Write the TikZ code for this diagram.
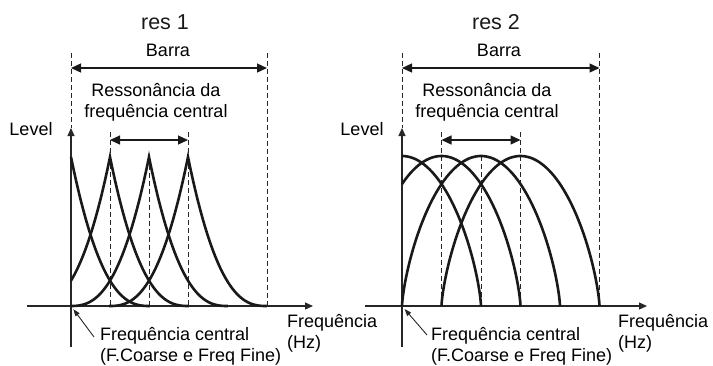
\documentclass[tikz,border=0pt]{standalone}
\usepackage{fontspec}
\setmainfont{Liberation Sans}
\usetikzlibrary{arrows.meta,positioning}

\begin{document}
\begin{tikzpicture}[x=1pt, y=-1pt,
    lbl/.style={font=\fontsize{18}{21}\selectfont, inner sep=0pt, text=black},
    ttl/.style={font=\fontsize{21.5}{24}\selectfont, inner sep=0pt, text=black!90},
    axisline/.style={line width=1.2pt, black!85, -{Triangle[length=8pt,width=7pt]}},
    guide/.style={dash pattern=on 5pt off 3pt, line width=1pt, black!85},
    spanarr/.style={line width=1.3pt, black!90, {Triangle[length=10pt,width=9pt]}-{Triangle[length=10pt,width=9pt]}},
    peak/.style={line width=2.6pt, black!90, line join=miter},
    ptr/.style={line width=0.9pt, black!85, -{Triangle[length=7pt,width=5pt]}, shorten >=4pt},
]
\useasboundingbox (0,0) rectangle (713,365);

% === LEFT PANEL: res 1 ===
\node[ttl] (res1) at (165,22) {res 1};
\node[lbl] (barra1) at (168,50.5) {Barra};
\node[lbl, align=center] (rfc1) at (156,102) {Ressonância da\\frequência central};
\node[lbl] (lvl1) at (31,129) {Level};
\node[lbl, anchor=west, align=left] (fc1) at (100,346) {Frequência central\\(F.Coarse e Freq Fine)};
\node[lbl, anchor=west, align=left] (hz1) at (287,333) {Frequência\\(Hz)};

% guides
\draw[guide] (71,53) -- (71,128);
\draw[guide] (267,53) -- (267,306);
\draw[guide] (110,132) -- (110,306);
\draw[guide] (149,157) -- (149,306);
\draw[guide] (188,132) -- (188,306);

% axes
\coordinate (o1) at (71,306);
\draw[axisline] (71,347) -- (71,128);
\draw[axisline] (27,306) -- (313,306);

% span arrows
\coordinate (bar1l) at (71,68);
\coordinate (bar1r) at (267,68);
\draw[spanarr] (bar1l) -- (bar1r);
\coordinate (st1l) at (110,140);
\coordinate (st1r) at (188,140);
\draw[spanarr] (st1l) -- (st1r);

% resonance peaks
\draw[peak] plot[domain=71:149.9, samples=60] (\x,{306-149*(1-(\x-71)/79)^2.6});
\foreach \c/\lo in {110/71,149/71,188/109.1}
  \draw[peak] plot[domain=\lo:\c, samples=50] (\x,{306-149*(1-(\c-\x)/79)^2.6})
    -- plot[domain=\c+0.4:\c+78.9, samples=60] (\x,{306-149*(1-(\x-\c)/79)^2.6});

% pointer
\coordinate (p1) at (94,337);
\draw[ptr] (p1) -- (o1);

% === RIGHT PANEL: res 2 ===
\node[ttl] (res2) at (496,22) {res 2};
\node[lbl] (barra2) at (499,50.5) {Barra};
\node[lbl, align=center] (rfc2) at (487,102) {Ressonância da\\frequência central};
\node[lbl] (lvl2) at (362,129) {Level};
\node[lbl, anchor=west, align=left] (fc2) at (431,346) {Frequência central\\(F.Coarse e Freq Fine)};
\node[lbl, anchor=west, align=left] (hz2) at (618,333) {Frequência\\(Hz)};

% guides
\draw[guide] (402,53) -- (402,128);
\draw[guide] (599.5,53) -- (599.5,306);
\draw[guide] (441.5,132) -- (441.5,306);
\draw[guide] (481,156) -- (481,306);
\draw[guide] (520.5,132) -- (520.5,306);

% axes
\coordinate (o2) at (402,306);
\draw[axisline] (402,347) -- (402,128);
\draw[axisline] (365,306) -- (647,306);

% span arrows
\coordinate (bar2l) at (402,68);
\coordinate (bar2r) at (599.5,68);
\draw[spanarr] (bar2l) -- (bar2r);
\coordinate (st2l) at (441.5,140);
\coordinate (st2r) at (520.5,140);
\draw[spanarr] (st2l) -- (st2r);

% resonance arcs
\foreach \c/\lo in {402/0,441.5/-30,481/-89.9,520.5/-89.9}
  \draw[peak] plot[domain=\lo:89.9, samples=90, variable=\t] ({\c+79*sin(\t)},{306-150*cos(\t)^1.44});

% pointer
\coordinate (p2) at (427,335);
\draw[ptr] (p2) -- (o2);

\end{tikzpicture}
\end{document}
